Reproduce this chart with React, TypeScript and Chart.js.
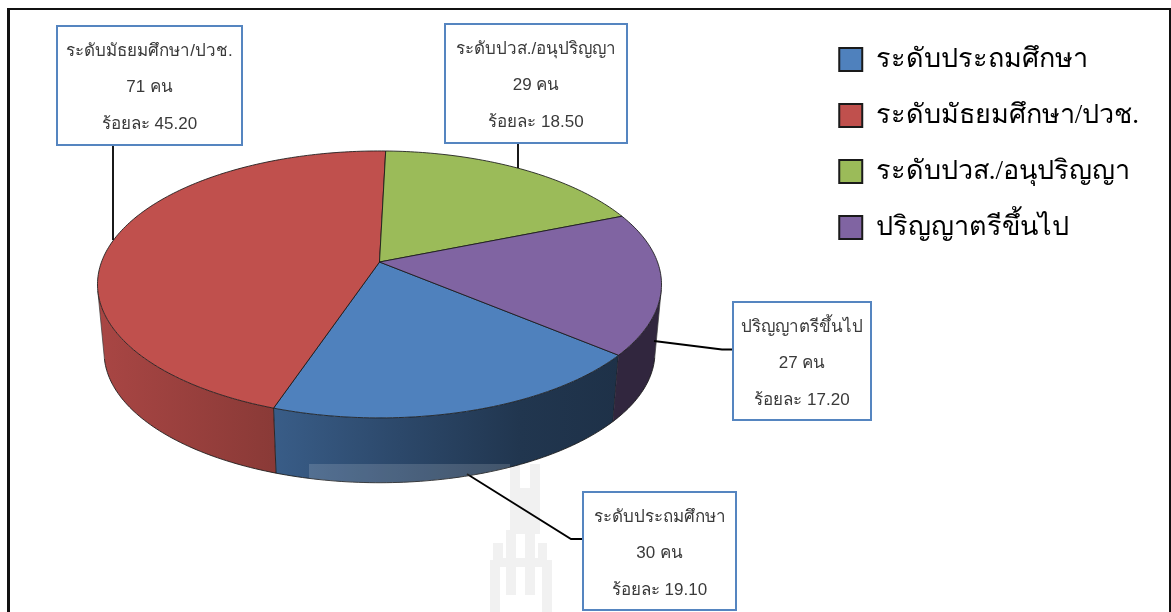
import React, { useEffect, useRef } from "react";
import { Chart, registerables } from "chart.js";

Chart.register(...registerables);

const categories = ["ระดับประถมศึกษา", "ระดับมัธยมศึกษา/ปวช.", "ระดับปวส./อนุปริญญา", "ปริญญาตรีขึ้นไป"];
const counts = [30, 71, 29, 27];
const percents = ["19.10", "45.20", "18.50", "17.20"];
const colors = ["#4f81bd", "#c0504d", "#9bbb59", "#8064a2"];

// layout of call-out boxes: [x, y, w, h], leader polyline
const boxes = [
  { r: [583, 492, 153, 118], leader: [[583, 539], [571, 539], [467, 474]] },
  { r: [57, 26, 185, 119], leader: [[113, 145], [113, 240]] },
  { r: [445, 24, 182, 119], leader: [[518, 143], [518, 168]] },
  { r: [733, 302, 138, 118], leader: [[733, 349.5], [722, 349.5], [654, 341]] },
];

const P = { x0: 379.5, y0: 262, a: 278, b: 129.7, k: 0.168, vpx: 380, vpy: 3200, t: 0.0233 };
const top3d = (ang: number) => {
  const u = Math.cos(ang), v = Math.sin(ang), w = 1 - P.k * v;
  return [P.x0 + (P.a * u) / w, P.y0 + (P.b * v) / w];
};
const low3d = ([x, y]: number[]) => [x + P.t * (P.vpx - x), y + P.t * (P.vpy - y)];

const shadeStops = [[97, 0.88], [273, 0.72], [400, 0.56], [520, 0.42], [620, 0.38], [665, 0.38]];
const shade = (hex: string, f: number) => {
  const n = parseInt(hex.slice(1), 16);
  return `rgb(${((n >> 16) & 255) * f},${((n >> 8) & 255) * f},${(n & 255) * f})`;
};
const watermark = [
  [510, 464, 10, 70], [530, 464, 10, 70], [510, 488, 30, 46],
  [506, 530, 10, 65], [525, 530, 10, 65],
  [493, 543, 10, 20], [538, 543, 9, 20], [493, 558, 54, 9],
  [490, 560, 10, 52], [542, 560, 10, 52],
];

const pie3d = {
  id: "pie3d",
  beforeDraw(chart: any) {
    const c = chart.ctx;
    c.save();
    c.fillStyle = "#fff";
    c.fillRect(0, 0, chart.width, chart.height);
    c.fillStyle = "#f1f1f1";
    watermark.forEach(([x, y, w, h]) => c.fillRect(x, y, w, h));
    c.fillStyle = "#111";
    c.fillRect(7, 8, 3, 604);
    c.fillRect(7, 8, 1164, 2);
    c.fillRect(1169, 8, 2, 604);
    c.restore();
  },
  beforeDatasetDraw(chart: any) {
    const c = chart.ctx;
    const arcs = chart.getDatasetMeta(0).data;
    const colorsOf = chart.data.datasets[0].backgroundColor;
    const steps = (a: any) => {
      const pts: number[][] = [];
      const n = Math.ceil(((a.endAngle - a.startAngle) * 180) / Math.PI);
      for (let i = 0; i <= n; i++) pts.push(top3d(a.startAngle + ((a.endAngle - a.startAngle) * i) / n));
      return pts;
    };
    const front = (pts: number[][], k: number) => {
      const t = [pts[k + 1][0] - pts[k][0], pts[k + 1][1] - pts[k][1]];
      const l = low3d(pts[k]);
      return t[0] * (l[1] - pts[k][1]) - t[1] * (l[0] - pts[k][0]) < 0;
    };
    const line = "rgba(25,25,25,0.85)";
    c.save();
    c.lineJoin = "round";
    arcs.forEach((a: any, i: number) => {
      const pts = steps(a);
      const g = c.createLinearGradient(97, 0, 665, 0);
      shadeStops.forEach(([x, f]) => g.addColorStop((x - 97) / 568, shade(colorsOf[i], f)));
      c.beginPath();
      for (let j = 0; j < pts.length - 1; j++) {
        if (!front(pts, j)) continue;
        const p = pts[j], q = pts[j + 1], lq = low3d(q), lp = low3d(p);
        c.moveTo(p[0], p[1]);
        c.lineTo(q[0], q[1]);
        c.lineTo(lq[0], lq[1]);
        c.lineTo(lp[0], lp[1]);
        c.closePath();
      }
      c.fillStyle = g;
      c.fill();
      // outlines: visible lower rim, slice edges and silhouette edges
      c.strokeStyle = line;
      c.lineWidth = 1;
      c.beginPath();
      for (let j = 0; j < pts.length - 1; j++) {
        if (!front(pts, j)) continue;
        const p = low3d(pts[j]), q = low3d(pts[j + 1]);
        c.moveTo(p[0], p[1]);
        c.lineTo(q[0], q[1]);
      }
      c.stroke();
      const edge = (p: number[]) => {
        const l = low3d(p);
        c.beginPath();
        c.moveTo(p[0], p[1]);
        c.lineTo(l[0], l[1]);
        c.stroke();
      };
      if (front(pts, 0)) edge(pts[0]);
      c.strokeStyle = "rgba(60,60,60,0.7)";
      for (let j = 1; j < pts.length - 1; j++) {
        if (front(pts, j - 1) !== front(pts, j)) edge(pts[j]);
      }
    });
    c.strokeStyle = line;
    c.lineWidth = 1;
    arcs.forEach((a: any, i: number) => {
      const pts = steps(a);
      c.beginPath();
      c.moveTo(P.x0, P.y0);
      pts.forEach(([x, y]) => c.lineTo(x, y));
      c.closePath();
      c.fillStyle = colorsOf[i];
      c.fill();
      c.stroke();
    });
    c.restore();
    return false;
  },
  afterDatasetsDraw(chart: any) {
    const c = chart.ctx;
    c.save();
    c.strokeStyle = "#000";
    c.lineWidth = 1.8;
    boxes.forEach((b) => {
      c.beginPath();
      b.leader.forEach(([x, y], j) => (j ? c.lineTo(x, y) : c.moveTo(x, y)));
      c.stroke();
    });
    c.textAlign = "center";
    c.textBaseline = "middle";
    c.font = '17px "Liberation Sans"';
    boxes.forEach((b, i) => {
      const [x, y, w, h] = b.r;
      c.fillStyle = "#fff";
      c.fillRect(x, y, w, h);
      c.strokeStyle = "#5585c0";
      c.lineWidth = 2;
      c.strokeRect(x, y, w, h);
      c.fillStyle = "#3a3a3a";
      const cx = x + w / 2;
      c.fillText(categories[i], cx, y + 25);
      c.fillText(`${counts[i]} คน`, cx, y + 61);
      c.fillText(`ร้อยละ ${percents[i]}`, cx, y + 98);
    });
    // pale band where the watermark overlaps the pie
    c.beginPath();
    c.rect(309, 464, 201, 24);
    c.clip();
    c.beginPath();
    for (let d = 0; d <= 180; d++) {
      const [x, y] = low3d(top3d((d * Math.PI) / 180));
      d ? c.lineTo(x, y) : c.moveTo(x, y);
    }
    c.lineTo(620, 300);
    c.closePath();
    c.fillStyle = "rgba(255,255,255,0.15)";
    c.fill();
    c.restore();
  },
};

export default function App() {
  const ref = useRef<HTMLCanvasElement>(null);
  useEffect(() => {
    const chart = new Chart(ref.current!, {
      type: "pie",
      data: {
        labels: categories,
        datasets: [{ data: counts, backgroundColor: colors, borderColor: "#1a1a1a", borderWidth: 2 }],
      },
      options: {
        responsive: false,
        animation: false,
        rotation: 129.9,
        layout: { padding: { top: 17, right: 22 } },
        plugins: {
          tooltip: { enabled: false },
          legend: {
            position: "right",
            align: "start",
            labels: {
              boxWidth: 23,
              boxHeight: 23,
              padding: 29,
              color: "#000",
              font: { size: 27, family: '"Liberation Serif", serif' },
            },
          },
        },
      },
      plugins: [pie3d],
    } as any);
    return () => chart.destroy();
  }, []);
  return <canvas ref={ref} width={1171} height={612} style={{ position: "absolute", left: 0, top: 0, display: "block" }} />;
}
